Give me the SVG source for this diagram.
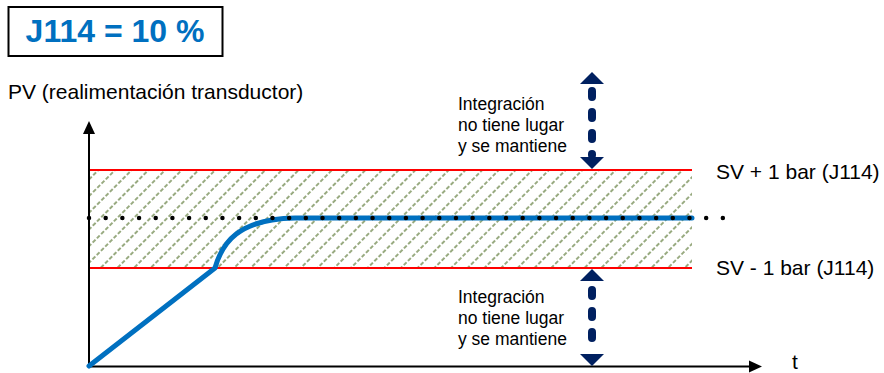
<svg xmlns="http://www.w3.org/2000/svg" width="884" height="373" viewBox="0 0 884 373">
<style>
text{font-family:"Liberation Sans",Arial,sans-serif;fill:#000}
.lbl{font-size:21px}
.note{font-size:17.5px}
.axis{stroke:#000;stroke-width:2;fill:none}
.red{stroke:#FF0000;stroke-width:2}
.nav{fill:#002060}
.navl{stroke:#002060;stroke-width:8;stroke-linecap:round;stroke-dasharray:6 15;fill:none}
</style>
<defs>
<pattern id="hatch" patternUnits="userSpaceOnUse" width="11.8" height="6" patternTransform="rotate(45)">
<line x1="1" y1="0" x2="1" y2="6" stroke="#46661A" stroke-width="1.1" stroke-dasharray="4 2"/>
</pattern>
</defs>
<g id="title">
<rect x="8.5" y="7" width="214" height="49" fill="#fff" stroke="#000" stroke-width="2"/>
<text x="115" y="42" text-anchor="middle" style="font-size:32px;font-weight:bold;fill:#0070C0">J114 = 10 %</text>
</g>
<g id="band">
<rect x="89" y="170" width="603" height="98" fill="url(#hatch)"/>
<line class="red" x1="89" y1="170" x2="692" y2="170"/>
<line class="red" x1="89" y1="268" x2="692" y2="268"/>
</g>
<g id="axes">
<line class="axis" x1="89" y1="366.5" x2="752" y2="366.5"/>
<polygon points="762,366.5 749,360.5 749,372.5" fill="#000"/>
<line class="axis" x1="89" y1="367" x2="89" y2="130"/>
<polygon points="89,121 83,134 95,134" fill="#000"/>
<text class="lbl" x="8" y="99">PV (realimentación transductor)</text>
<text class="lbl" x="792" y="369">t</text>
</g>
<g id="response">
<path d="M89,366 L215,268 C222,243 238,219 295,218 L692,218" fill="none" stroke="#0070C0" stroke-width="5" stroke-linecap="round" stroke-linejoin="round"/>
</g>
<g id="setpoint">
<line x1="89" y1="218" x2="723" y2="218" stroke="#000" stroke-width="4.5" stroke-linecap="round" stroke-dasharray="0 16.68"/>
</g>
<g id="labels">
<text class="lbl" x="716" y="179">SV + 1 bar (J114)</text>
<text class="lbl" x="716" y="275">SV - 1 bar (J114)</text>
</g>
<g id="upper-note">
<text class="note" x="458" y="110">Integración</text>
<text class="note" x="458" y="131">no tiene lugar</text>
<text class="note" x="458" y="152">y se mantiene</text>
</g>
<g id="lower-note">
<text class="note" x="458" y="303">Integración</text>
<text class="note" x="458" y="324">no tiene lugar</text>
<text class="note" x="458" y="345">y se mantiene</text>
</g>
<g id="connectors">
<line class="navl" x1="592" y1="91" x2="592" y2="155"/>
<polygon class="nav" points="592,72 580,84 604,84"/>
<polygon class="nav" points="592,169 580,157 604,157"/>
<line class="navl" x1="592" y1="290" x2="592" y2="352"/>
<polygon class="nav" points="592,269 580,281 604,281"/>
<polygon class="nav" points="592,366 580,354 604,354"/>
</g>
</svg>
